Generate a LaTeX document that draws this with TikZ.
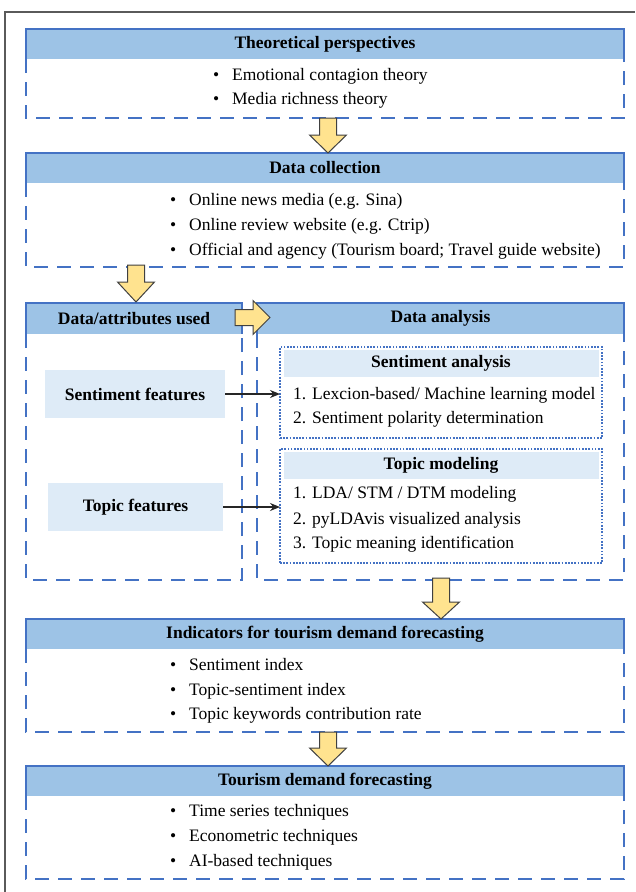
\documentclass[tikz,border=0pt]{standalone}
\usepackage{fontspec}
\setmainfont{Liberation Serif}
\usetikzlibrary{arrows.meta,calc}
\definecolor{bord}{HTML}{4472C4}
\definecolor{hdr}{HTML}{9DC3E6}
\definecolor{lite}{HTML}{DEEBF7}
\definecolor{yel}{HTML}{FFE38F}
\definecolor{arrline}{HTML}{404040}
\definecolor{framec}{HTML}{5A5A5A}
\newcommand\txtfont{\fontsize{17.5}{21}\selectfont}
\tikzset{
  hdrbox/.style={fill=hdr, draw=none, inner sep=0pt, outer sep=0pt, anchor=north west,
    font=\bfseries\txtfont},
  bodyarea/.style={draw=none, inner sep=0pt, outer sep=0pt},
  solidedge/.style={draw=bord, line width=1.8pt},
  dashedge/.style={draw=bord, line width=1.8pt, dash pattern=on 14pt off 9pt},
  dotedge/.style={draw=bord, line width=1.7pt, dash pattern=on 1.7pt off 1.5pt},
  subbox/.style={dotedge, inner sep=0pt, outer sep=0pt, anchor=north west},
  subhdr/.style={fill=lite, inner sep=0pt, outer sep=0pt, anchor=north, font=\bfseries\txtfont},
  item/.style={anchor=west, inner sep=0pt, font=\txtfont, text height=11pt, text depth=3pt},
  feat/.style={fill=lite, inner sep=0pt, outer sep=0pt, anchor=north west, font=\bfseries\txtfont},
  blk/.style={fill=yel, draw=arrline, line width=1pt, line join=miter},
  link/.style={-{Stealth[length=10pt,width=8pt]}, line width=1.3pt, draw=black!85},
  framel/.style={draw=framec, line width=2pt},
  pics/downarr/.style 2 args={code={
    \draw[blk] (-8.5,0) -- (8.5,0) -- (8.5,#1) -- (18.5,#1) -- (0,{#1+#2}) -- (-18.5,#1) -- (-8.5,#1) -- cycle;}},
  pics/rightarr/.style 2 args={code={
    \draw[blk] (0,-8) -- (#1,-8) -- (#1,-17) -- ({#1+#2},0) -- (#1,17) -- (#1,8) -- (0,8) -- cycle;}}
}
\newcommand\mkbox[7]{%
  \node[hdrbox, minimum width=#4pt, minimum height=#5pt] (#1h) at (#2,#3) {#7};
  \node[bodyarea, minimum width=#4pt, minimum height=#6pt, anchor=north west] (#1b) at (#1h.south west) {};
  \draw[solidedge] (#1h.south west) -- (#1h.north west) -- (#1h.north east) -- (#1h.south east);
  \draw[dashedge] (#1h.south west) -- (#1b.south west) -- (#1b.south east) -- (#1h.south east);
}
\newcommand\bul{\makebox[19pt][l]{\textbullet}}
\begin{document}
\begin{tikzpicture}[x=1pt,y=-1pt]
\useasboundingbox (0,0) rectangle (635,892);
\fill[white] (0,0) rectangle (635,892);
% outer frame (cropped)
\draw[framel] (5,892) -- (5,12) -- (635,12);

% Box 1
\mkbox{t}{26}{29}{598}{30}{59}{Theoretical perspectives}
\node[item] (t1) at (213,76) {\bul Emotional contagion theory};
\node[item] (t2) at (213,100) {\bul Media richness theory};

% Box 2
\mkbox{c}{26}{153}{598}{30}{84}{Data collection}
\node[item] (c1) at (170,201) {\bul Online news media (e.g. Sina)};
\node[item] (c2) at (170,226) {\bul Online review website (e.g. Ctrip)};
\node[item] (c3) at (170,251) {\bul Official and agency (Tourism board; Travel guide website)};

% Box 3 left and right
\mkbox{u}{26}{303}{216}{31}{246}{Data/attributes used}
\mkbox{a}{257}{303}{367}{31}{246}{Data analysis}

% Sentiment analysis sub box
\node[subbox, minimum width=322pt, minimum height=91pt] (sa) at (280,347) {};
\node[subhdr, minimum width=315pt, minimum height=27pt] (sah) at ($(sa.north)+(0,3)$) {Sentiment analysis};
\node[item] (sa1) at (293,395) {1. Lexcion-based/ Machine learning model};
\node[item] (sa2) at (293,419) {2. Sentiment polarity determination};

% Topic modeling sub box
\node[subbox, minimum width=322pt, minimum height=114pt] (tm) at (280,449) {};
\node[subhdr, minimum width=315pt, minimum height=27pt] (tmh) at ($(tm.north)+(0,3)$) {Topic modeling};
\node[item] (tm1) at (293,494) {1. LDA/ STM / DTM modeling};
\node[item] (tm2) at (293,520) {2. pyLDAvis visualized analysis};
\node[item] (tm3) at (293,544) {3. Topic meaning identification};

% feature boxes
\node[feat, minimum width=180pt, minimum height=48pt] (sf) at (45,370) {Sentiment features};
\node[feat, minimum width=175pt, minimum height=48pt] (tf) at (48,483) {Topic features};
\draw[link] (sf.east) -- (sf.east -| sa.west);
\draw[link] (tf.east) -- (tf.east -| tm.west);

% Box 4
\mkbox{i}{26}{619}{598}{30}{83}{Indicators for tourism demand forecasting}
\node[item] (i1) at (170,666) {\bul Sentiment index};
\node[item] (i2) at (170,691) {\bul Topic-sentiment index};
\node[item] (i3) at (170,715) {\bul Topic keywords contribution rate};

% Box 5
\mkbox{f}{26}{766}{598}{30}{83}{Tourism demand forecasting}
\node[item] (f1) at (170,812) {\bul Time series techniques};
\node[item] (f2) at (170,837) {\bul Econometric techniques};
\node[item] (f3) at (170,862) {\bul AI-based techniques};

% block arrows
\pic at ($(tb.south)+(3,0)$) {downarr={17}{18}};
\pic at ($(cb.south west)+(110,-2)$) {downarr={17}{20}};
\pic at ($(uh.east)+(-7,-1)$) {rightarr={18}{17}};
\pic at ($(ab.south west)+(184,-2)$) {downarr={24}{17}};
\pic at ($(ib.south)+(3,0)$) {downarr={16}{18}};
\end{tikzpicture}
\end{document}
